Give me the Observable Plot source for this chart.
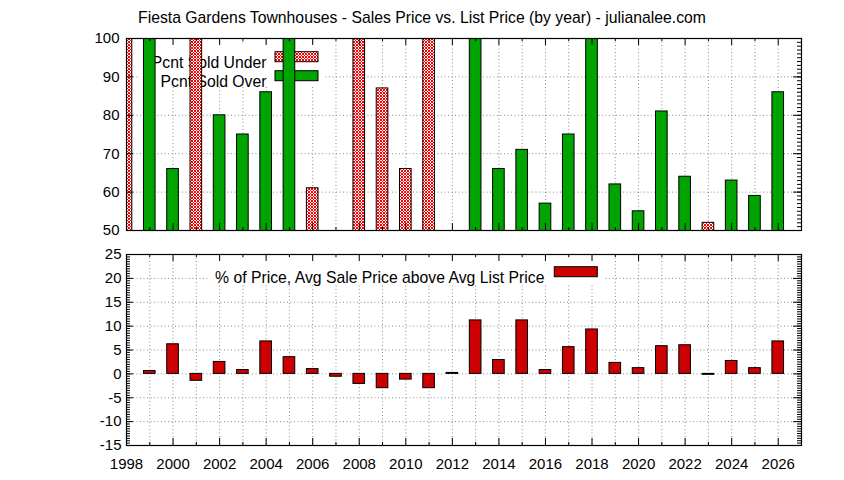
<!DOCTYPE html>
<html>
<head>
<meta charset="utf-8">
<script src="https://cdn.jsdelivr.net/npm/d3@7"></script>
<script src="https://cdn.jsdelivr.net/npm/@observablehq/plot@0.6"></script>
<style>
  html, body { margin: 0; padding: 0; background: #fff; }
  #wrap { position: relative; width: 844px; height: 480px; overflow: hidden;
          font-family: "Liberation Sans", Arial, sans-serif; }
  #top { position: absolute; left: 0; top: 30px; }
  #bot { position: absolute; left: 0; top: 240px; }
  #title { position: absolute; left: 0; top: 9px; width: 844px; text-align: center;
           font-size: 15.75px; line-height: 18px; color: #000; }
</style>
</head>
<body>
<div id="wrap">
  <div id="top"></div>
  <div id="bot"></div>
  <div id="title">Fiesta Gardens Townhouses - Sales Price vs. List Price (by year) - julianalee.com</div>
</div>
<script>
// ---------- data ----------
const years = [1998, 1999, 2000, 2001, 2002, 2003, 2004, 2005, 2006, 2007, 2008, 2009, 2010, 2011, 2012,
               2013, 2014, 2015, 2016, 2017, 2018, 2019, 2020, 2021, 2022, 2023, 2024, 2025, 2026];
const pctSoldUnder = [100, null, null, 100, null, null, null, null, 61, null, 100, 87, 66, 100, null,
                      null, null, null, null, null, null, null, null, null, null, 52, null, null, null];
const pctSoldOver  = [null, 100, 66, null, 80, 75, 86, 100, null, null, null, null, null, null, null,
                      100, 66, 71, 57, 75, 100, 62, 55, 81, 64, null, 63, 59, 86];
const pctAboveList = [null, 0.6, 6.2, -1.45, 2.5, 0.8, 6.8, 3.5, 1.0, -0.6, -2.1, -3.0, -1.2, -3.0, 0.2,
                      11.2, 2.9, 11.2, 0.8, 5.6, 9.3, 2.3, 1.2, 5.8, 6.0, -0.2, 2.7, 1.2, 6.8];

const xTickLabels = [1998, 2000, 2002, 2004, 2006, 2008, 2010, 2012, 2014, 2016, 2018, 2020, 2022, 2024, 2026];
const xMinorTicks = [1999, 2001, 2003, 2005, 2007, 2009, 2011, 2013, 2015, 2017, 2019, 2021, 2023, 2025];
const topYTicks = [50, 60, 70, 80, 90, 100];
const botYTicks = [-15, -10, -5, 0, 5, 10, 15, 20, 25];

const legendUnder = "Pcnt Sold Under";
const legendOver = "Pcnt Sold Over";
const legendAbove = "% of Price, Avg Sale Price above Avg List Price";

// ---------- styling ----------
const FONT = '"Liberation Sans", Arial, sans-serif';
const FS = 15;      // tick labels
const LFS = 15.75;  // legend text
const GREEN = "#00a400";
const RED = "#cc0000";
const GRID = {stroke: "#8a8a8a", strokeDasharray: "1,2.5", strokeWidth: 1};
const W = 844;
const ML = 126, MR = 43;
const FW = W - ML - MR; // frame width 675
const fmt = d => String(d);

const topRows = years.map((year, i) => ({year, under: pctSoldUnder[i], over: pctSoldOver[i]}));
const botRows = years.map((year, i) => ({year, v: pctAboveList[i]})).filter(d => d.v != null);

function tickMarks(FH, yMajor, yMinor, leftMinor) {
  const m = [
    Plot.ruleX(xTickLabels, {x: d => d, insetTop: FH - 7, stroke: "black"}),
    Plot.ruleX(xTickLabels, {x: d => d, insetBottom: FH - 7, stroke: "black"}),
    Plot.ruleX(xMinorTicks, {x: d => d, insetTop: FH - 3, stroke: "black"}),
    Plot.ruleX(xMinorTicks, {x: d => d, insetBottom: FH - 3, stroke: "black"}),
    Plot.ruleY(yMajor, {y: d => d, insetRight: FW - 7, stroke: "black"}),
    Plot.ruleY(yMajor, {y: d => d, insetLeft: FW - 8, stroke: "black"}),
    Plot.ruleY(yMinor, {y: d => d, insetLeft: FW - 4, stroke: "black"})
  ];
  if (leftMinor) m.push(Plot.ruleY(yMinor, {y: d => d, insetRight: FW - 4, stroke: "black"}));
  return m;
}

// ---------- top panel ----------
const TH = 210, TMT = 8, TMB = 10;
const TFH = TH - TMT - TMB; // 192
const topMinor = d3.range(50, 100.001, 1);

const topPlot = Plot.plot({
  width: W, height: TH,
  marginLeft: ML, marginRight: MR, marginTop: TMT, marginBottom: TMB,
  style: {fontFamily: FONT, fontSize: FS + "px", color: "#000", background: "transparent", overflow: "visible"},
  x: {domain: [1998, 2027], axis: null},
  y: {domain: [50, 100], axis: null},
  marks: [
    Plot.ruleX(d3.range(1999, 2027), {x: d => d, ...GRID}),
    Plot.ruleY([60, 70, 80, 90], {y: d => d, ...GRID}),
    // opaque legend box
    Plot.rect([0], {insetLeft: 14, insetRight: 478, insetTop: 5, insetBottom: 143, fill: "white"}),
    Plot.text([legendUnder], {text: d => d, frameAnchor: "top-left", dx: 140, dy: 18.7, textAnchor: "end", fontSize: LFS, fill: "black"}),
    Plot.text([legendOver], {text: d => d, frameAnchor: "top-left", dx: 140, dy: 37.7, textAnchor: "end", fontSize: LFS, fill: "black"}),
    Plot.rect([0], {insetLeft: 149, insetRight: 483, insetTop: 13.7, insetBottom: TFH - 23.7, fill: "url(#hatchRed)", stroke: "black"}),
    Plot.rect([0], {insetLeft: 149, insetRight: 483, insetTop: 32.7, insetBottom: TFH - 42.7, fill: GREEN, stroke: "black"}),
    // bars
    Plot.rect(topRows.filter(d => d.under != null), {
      x1: d => d.year - 0.25, x2: d => d.year + 0.25, y1: 0, y2: "under",
      fill: "url(#hatchRed)", stroke: "black", strokeWidth: 1, clip: true
    }),
    Plot.rect(topRows.filter(d => d.over != null), {
      x1: d => d.year - 0.25, x2: d => d.year + 0.25, y1: 0, y2: "over",
      fill: GREEN, stroke: "black", strokeWidth: 1, clip: true
    }),
    ...tickMarks(TFH, topYTicks, topMinor, false),
    Plot.frame({stroke: "black", strokeWidth: 1.2}),
    Plot.axisY(topYTicks, {anchor: "left", tickSize: 0, tickPadding: 7, fontSize: FS, tickFormat: fmt, label: null})
  ]
});

d3.select(topPlot).insert("defs", ":first-child").html(
  '<pattern id="hatchRed" patternUnits="userSpaceOnUse" width="3" height="3">' +
  '<rect width="3" height="3" fill="#ffffff"/>' +
  '<path d="M0,0L3,3M3,0L0,3" stroke="#ff0000" stroke-width="1"/>' +
  '</pattern>'
);
document.getElementById("top").append(topPlot);

// ---------- bottom panel ----------
const BH = 240, BMT = 14, BMB = 35;
const BFH = BH - BMT - BMB; // 191
const botMinor = d3.range(-15, 25.001, 0.5);

const botPlot = Plot.plot({
  width: W, height: BH,
  marginLeft: ML, marginRight: MR, marginTop: BMT, marginBottom: BMB,
  style: {fontFamily: FONT, fontSize: FS + "px", color: "#000", background: "transparent", overflow: "visible"},
  x: {domain: [1998, 2027], axis: null},
  y: {domain: [-15, 25], axis: null},
  marks: [
    Plot.ruleX(d3.range(1999, 2027), {x: d => d, ...GRID}),
    Plot.ruleY([-10, -5, 0, 5, 10, 15, 20], {y: d => d, ...GRID}),
    Plot.rect([0], {insetLeft: 84, insetRight: 196, insetTop: 4, insetBottom: BFH - 29, fill: "white"}),
    Plot.text([legendAbove], {text: d => d, frameAnchor: "top-left", dx: 418, dy: 17.7, textAnchor: "end", fontSize: LFS, fill: "black"}),
    Plot.rect([0], {insetLeft: 428.3, insetRight: 203.7, insetTop: 12.7, insetBottom: BFH - 22.7, fill: RED, stroke: "black"}),
    Plot.rect(botRows, {
      x1: d => d.year - 0.25, x2: d => d.year + 0.25, y1: 0, y2: "v",
      fill: RED, stroke: "black", strokeWidth: 1, clip: true
    }),
    ...tickMarks(BFH, botYTicks, botMinor, true),
    Plot.frame({stroke: "black", strokeWidth: 1.2}),
    Plot.axisY(botYTicks, {anchor: "left", tickSize: 0, tickPadding: 5, fontSize: FS, tickFormat: fmt, label: null}),
    Plot.axisX(xTickLabels, {anchor: "bottom", tickSize: 0, tickPadding: 13, fontSize: FS, tickFormat: fmt, label: null})
  ]
});
document.getElementById("bot").append(botPlot);
</script>
</body>
</html>
